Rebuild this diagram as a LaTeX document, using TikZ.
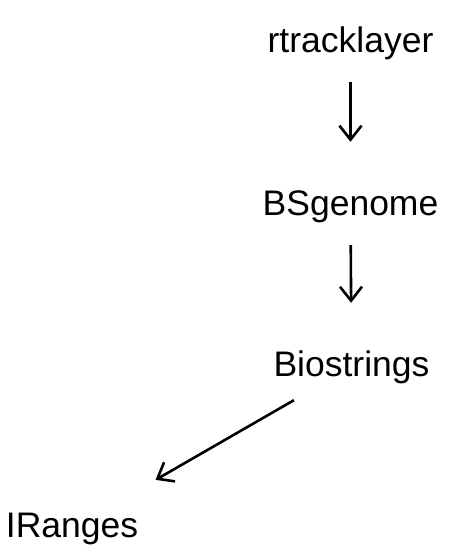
\documentclass[tikz,border=0pt]{standalone}
\usepackage{fontspec}
\newfontfamily\pkgfont{Liberation Sans}
\usetikzlibrary{arrows.meta}
\tikzset{
    pkg/.style={font=\pkgfont\fontsize{35.5}{40}\selectfont, inner sep=0pt, anchor=base, text height=25pt, text depth=7pt},
    dep/.style={-{Straight Barb[length=14pt,width=22pt]}, line width=2.6pt},
}
\begin{document}
\begin{tikzpicture}[x=1pt,y=-1pt]
            \useasboundingbox (0,0) rectangle (450,557);
            \node[pkg] (rt) at (350.5,52) {rtracklayer};
            \node[pkg] (bs) at (350.5,215) {BSgenome};
            \node[pkg] (bio) at (351.5,376) {Biostrings};
            \node[pkg] (ir) at (72,537) {IRanges};

            \draw[dep, shorten <=23pt, shorten >=48pt] (rt) to (bs); \draw[dep, shorten <=23pt, shorten >=48pt] (bs) to (bio);
            \draw[dep, shorten <=34pt, shorten >=64pt] (bio) to (ir);
        \end{tikzpicture}
\end{document}
